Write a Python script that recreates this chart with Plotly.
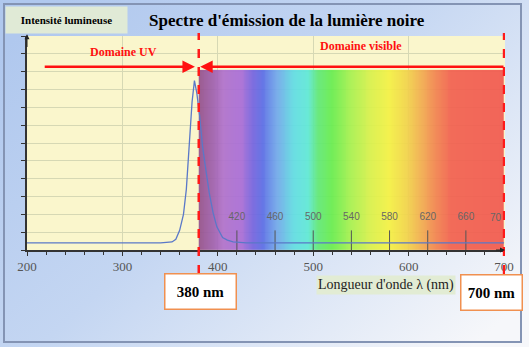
import base64
import numpy as np
import plotly.graph_objects as go

# ---------------- data ----------------
wl = [200, 340, 352, 356, 360, 364, 367, 370, 373, 375.5, 378, 381, 384, 388, 391, 395, 399, 405, 410, 416, 430, 700]
intensity = [0.4, 0.4, 0.45, 0.6, 1.1, 2.0, 3.4, 5.8, 8.3, 9.5, 8.8, 7.5, 5.8, 4.3, 3.2, 2.1, 1.3, 0.7, 0.55, 0.45, 0.4, 0.4]
x_ticks = [200, 300, 400, 500, 600, 700]
ruler_ticks = [420, 460, 500, 540, 580, 620, 660]
visible_limits = [380, 700]
spectrum_top = 10.1
stop_nm = [380, 396, 405, 425, 437, 447, 462, 480, 495, 505, 520, 540, 560, 580, 600, 615, 630, 645, 700]
stop_col = ["#94508c", "#a060b0", "#b070cc", "#a86cd8", "#7464e0", "#5a6ce8", "#70a8ec", "#60dce4",
            "#5ee8d8", "#60e878", "#68ec50", "#a8f050", "#d8f04c", "#f4f044", "#f2d04c", "#f2a850",
            "#f28050", "#f26050", "#f25a50"]

W, H = 529, 347
L, R, T, B = 27, 24, 36, 97
PW, PH = W - L - R, H - T - B

def px(p):
    return (p - L) / PW

def py(p):
    return (T + PH - p) / PH

SERIF = "Liberation Serif, Times New Roman, serif"
NARROW = "Liberation Sans Narrow, Arial Narrow, sans-serif"

fig = go.Figure()

# spectrum (visible domain)
edges = np.arange(visible_limits[0], visible_limits[1] + 1, 1.0)
centers = (edges[:-1] + edges[1:]) / 2
lo, hi = visible_limits
cs = [[(n - lo) / (hi - lo), c] for n, c in zip(stop_nm, stop_col)]
fig.add_trace(go.Heatmap(x=edges, y=[0, spectrum_top], z=[centers], colorscale=cs,
                         zmin=lo, zmax=hi, showscale=False, opacity=0.93, hoverinfo="skip"))

# ruler inside spectrum
rx, ry = [], []
for t in ruler_ticks:
    rx += [t, t, None]
    ry += [0, 1.1, None]
fig.add_trace(go.Scatter(x=rx, y=ry, mode="lines", line=dict(color="#555555", width=1), hoverinfo="skip"))
fig.add_trace(go.Scatter(x=ruler_ticks, y=[1.85] * len(ruler_ticks), mode="text",
                         text=[str(t) for t in ruler_ticks],
                         textfont=dict(family=NARROW, size=10, color="#666666"),
                         hoverinfo="skip"))

# emission curve
fig.add_trace(go.Scatter(x=wl, y=intensity, mode="lines", line=dict(color="#5a78c8", width=1.3), hoverinfo="skip"))

# background gradient image
svg = ('<svg xmlns="http://www.w3.org/2000/svg" width="529" height="347">'
       '<defs><linearGradient id="g" x1="0" y1="0.15" x2="1" y2="0.85">'
       '<stop offset="0" stop-color="#b0c8ee"/><stop offset="0.45" stop-color="#c4d6f2"/>'
       '<stop offset="1" stop-color="#f6f7fa"/></linearGradient></defs>'
       '<rect width="529" height="347" fill="url(#g)"/></svg>')
src = "data:image/svg+xml;base64," + base64.b64encode(svg.encode()).decode()

shapes = [
    dict(type="rect", xref="paper", yref="paper", x0=0, x1=1, y0=0, y1=1,
         fillcolor="#faf6cc", line=dict(width=0), layer="below"),
    dict(type="rect", xref="paper", yref="paper", x0=px(4), x1=px(521), y0=py(342), y1=py(4),
         line=dict(color="#8494b4", width=2), layer="above"),
]
for v in visible_limits:
    shapes.append(dict(type="line", xref="x", yref="paper", x0=v, x1=v, y0=py(274), y1=py(33),
                       line=dict(color="#ff1a1a", width=2.5, dash="dash")))


def pann(x, y, text, **kw):
    d = dict(xref="paper", yref="paper", x=px(x), y=py(y), xanchor="center", yanchor="middle",
             showarrow=False, text=text)
    d.update(kw)
    return d


ann = []
ann.append(pann(287, 20, "<b>Spectre d'émission de la lumière noire</b>",
                font=dict(family=SERIF, size=17, color="black")))
ann.append(pann(66.5, 20, "<b>Intensité lumineuse</b>", width=119, height=24, bgcolor="#e0ead6",
                font=dict(family=SERIF, size=11, color="black")))
ann.append(pann(123, 52, "<b>Domaine UV</b>", font=dict(family=SERIF, size=12, color="#ff1010")))
ann.append(pann(361, 46, "<b>Domaine visible</b>", font=dict(family=SERIF, size=12, color="#ff1010")))
ann.append(dict(xref="x", yref="y", axref="x", ayref="y", x=376, y=10.27, ax=217, ay=10.27,
                showarrow=True, arrowhead=2, arrowsize=1, arrowwidth=2.5, arrowcolor="#ff1010", text=""))
ann.append(dict(xref="x", yref="y", axref="x", ayref="y", x=381.5, y=10.27, ax=701, ay=10.27,
                showarrow=True, arrowhead=2, arrowsize=1, arrowwidth=2.5, arrowcolor="#ff1010", text=""))
ann.append(dict(xref="x", yref="y", axref="x", ayref="y", x=200, y=12.1, ax=200, ay=11.3,
                showarrow=True, arrowhead=2, arrowsize=1, arrowwidth=1, arrowcolor="#222222", text=""))
ann.append(dict(xref="x", yref="y", axref="x", ayref="y", x=701, y=0, ax=690, ay=0,
                showarrow=True, arrowhead=2, arrowsize=1, arrowwidth=1, arrowcolor="#222222", text=""))
ann.append(dict(xref="x", yref="y", x=700, y=1.85, xanchor="right", yanchor="middle", showarrow=False, text="70",
                font=dict(family=NARROW, size=10, color="#666666")))
ann.append(pann(200.5, 291.5, "<b>%d nm</b>" % visible_limits[0], width=70, height=34, bgcolor="white",
                bordercolor="#f09050", borderwidth=1.5, borderpad=0,
                font=dict(family=SERIF, size=15, color="black")))
ann.append(pann(491.5, 292, "<b>%d nm</b>" % visible_limits[1], width=60, height=34, bgcolor="white",
                bordercolor="#f09050", borderwidth=1.5, borderpad=0,
                font=dict(family=SERIF, size=15, color="black")))
ann.append(pann(386, 285, "Longueur d'onde λ (nm)", bgcolor="#e2ecd4", borderpad=1,
                font=dict(family=SERIF, size=14, color="#222222")))

fig.update_layout(
    width=W, height=H, margin=dict(l=L, r=R, t=T, b=B),
    paper_bgcolor="#c6d8f2", plot_bgcolor="rgba(0,0,0,0)",
    showlegend=False, shapes=shapes, annotations=ann,
    images=[dict(source=src, xref="paper", yref="paper", x=-L / PW, y=1 + T / PH,
                 sizex=W / PW, sizey=H / PH, sizing="stretch", layer="below", xanchor="left", yanchor="top")],
    xaxis=dict(range=[200, 701], tickvals=x_ticks, ticks="outside", ticklen=4, tickcolor="#333",
               tickfont=dict(family=SERIF, size=13, color="#555555"),
               showgrid=True, gridcolor="#d6d8b4", gridwidth=1, zeroline=False,
               showline=True, linecolor="#333333", linewidth=1.5,
               minor=dict(dtick=20, ticks="outside", ticklen=3, tickcolor="#333", showgrid=False)),
    yaxis=dict(range=[0, 12], dtick=1, showticklabels=False, ticks="outside", ticklen=4, tickcolor="#333",
               showgrid=True, gridcolor="#d6d8b4", gridwidth=1, zeroline=False,
               showline=True, linecolor="#333333", linewidth=1.5),
)

fig.write_html("out.html")
